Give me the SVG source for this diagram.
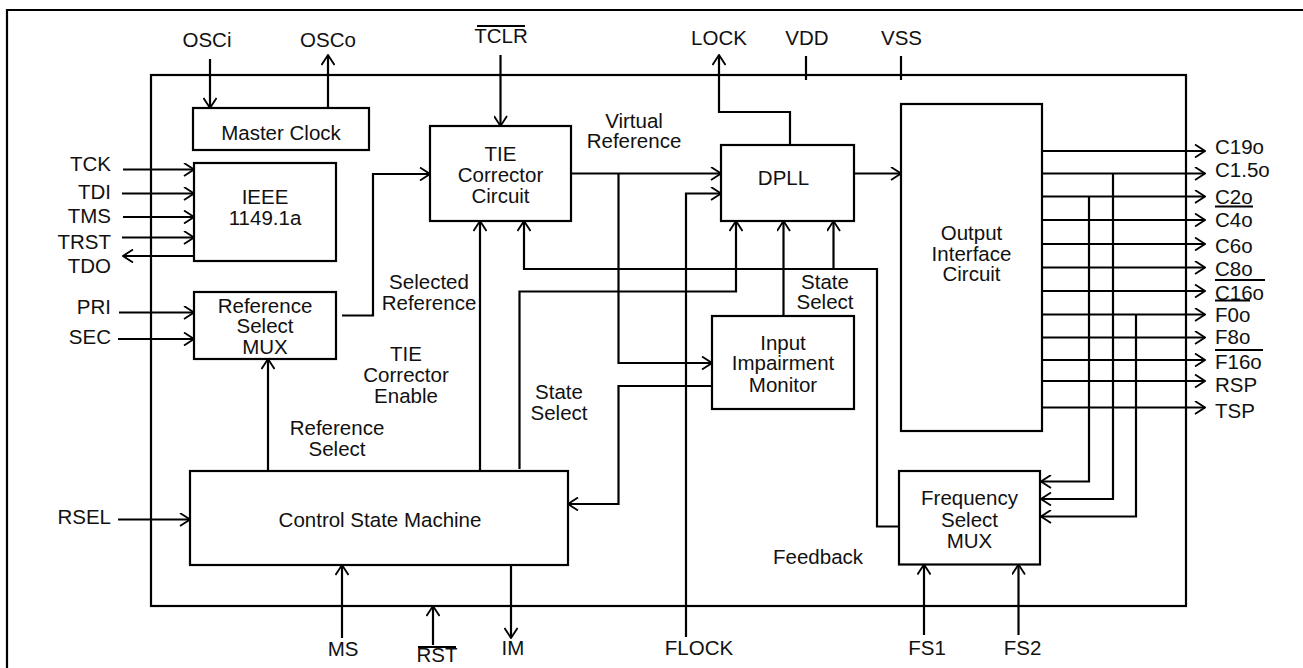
<svg xmlns="http://www.w3.org/2000/svg" width="1303" height="668" viewBox="0 0 1303 668">
<style>
  text { font-family: "Liberation Sans", Arial, sans-serif; font-size: 20.5px; fill: #111; }
  .c { text-anchor: middle; }
  .e { text-anchor: end; }
  .box { fill: #fff; stroke: #000; stroke-width: 2.2; }
  .w { fill: none; stroke: #000; stroke-width: 2.2; }
  .a { marker-end: url(#ah); }
  .bar { stroke: #000; stroke-width: 2; }
</style>
<defs>
  <marker id="ah" viewBox="0 0 12 14" refX="11" refY="7" markerWidth="12" markerHeight="14" markerUnits="userSpaceOnUse" orient="auto">
    <path d="M1,0.5 L11,7 L1,13.5" fill="none" stroke="#000" stroke-width="1.8"/>
  </marker>
</defs>
<rect width="1303" height="668" fill="#fff"/>
<path class="w" d="M7,668 V10 H1303"/>
<g id="chip"><rect x="151" y="75" width="1035" height="531" fill="none" stroke="#000" stroke-width="2.2"/></g>

<g id="connectors">
  <path class="w a" d="M210,59 V108"/>
  <path class="w a" d="M328,108 V55"/>
  <path class="w a" d="M500.5,55 V126"/>
  <path class="w a" d="M790,145 V112 H719 V55"/>
  <path class="w" d="M806,56 V80"/>
  <path class="w" d="M901,56 V80"/>
  <path class="w a" d="M123,169.5 H194"/>
  <path class="w a" d="M122,193.5 H194"/>
  <path class="w a" d="M123,217 H194"/>
  <path class="w a" d="M122,237.5 H194"/>
  <path class="w a" d="M194,256 H123"/>
  <path class="w a" d="M119,312.5 H194"/>
  <path class="w a" d="M118,339 H194"/>
  <path class="w a" d="M118,519.5 H190"/>
  <path class="w a" d="M342,315.5 H373 V174 H430"/>
  <path class="w a" d="M571,173.5 H721"/>
  <path class="w a" d="M618.5,173.5 V363 H712"/>
  <path class="w a" d="M686,637 V193.5 H721"/>
  <path class="w a" d="M854,173.5 H901"/>
  <path class="w a" d="M480,471 V221"/>
  <path class="w a" d="M900,526.5 H877 V269 H524 V221"/>
  <path class="w a" d="M833.5,269 V221"/>
  <path class="w a" d="M519.5,469 V291.5 H736 V221"/>
  <path class="w a" d="M783.5,316 V221"/>
  <path class="w a" d="M712,386 H618.5 V504 H568"/>
  <path class="w a" d="M268,471 V359"/>
  <path class="w a" d="M342,638 V565"/>
  <path class="w a" d="M433,645 V606"/>
  <path class="w a" d="M511,565 V638"/>
  <path class="w a" d="M924,635 V564.5"/>
  <path class="w a" d="M1018.5,635 V564.5"/>
  <path class="w a" d="M1042,151 H1205"/>
  <path class="w a" d="M1042,173.5 H1205"/>
  <path class="w a" d="M1042,196.5 H1205"/>
  <path class="w a" d="M1042,220 H1205"/>
  <path class="w a" d="M1042,244 H1205"/>
  <path class="w a" d="M1042,267.5 H1205"/>
  <path class="w a" d="M1042,291 H1205"/>
  <path class="w a" d="M1042,314.5 H1205"/>
  <path class="w a" d="M1042,337.5 H1205"/>
  <path class="w a" d="M1042,360 H1205"/>
  <path class="w a" d="M1039,381 H1205"/>
  <path class="w a" d="M1039,407.5 H1205"/>
  <path class="w a" d="M1113,173.5 V499 H1041"/>
  <path class="w a" d="M1089,196.5 V481.5 H1041"/>
  <path class="w a" d="M1136,314.5 V516.5 H1041"/>
</g>

<g id="master-clock">
  <rect class="box" x="193" y="108" width="176" height="42"/>
  <text class="c" x="281" y="140">Master Clock</text>
</g>
<g id="ieee">
  <rect class="box" x="194" y="163" width="142" height="98"/>
  <text class="c" x="265" y="204">IEEE</text>
  <text class="c" x="265" y="225">1149.1a</text>
</g>
<g id="ref-select-mux">
  <rect class="box" x="194" y="292" width="142" height="67"/>
  <text class="c" x="265" y="312.5">Reference</text>
  <text class="c" x="265" y="333">Select</text>
  <text class="c" x="265" y="353.5">MUX</text>
</g>
<g id="tie-corrector">
  <rect class="box" x="430" y="126" width="141" height="95"/>
  <text class="c" x="500.5" y="161">TIE</text>
  <text class="c" x="500.5" y="182">Corrector</text>
  <text class="c" x="500.5" y="203">Circuit</text>
</g>
<g id="dpll">
  <rect class="box" x="721" y="145" width="133" height="76"/>
  <text class="c" x="783.5" y="185">DPLL</text>
</g>
<g id="input-impairment-monitor">
  <rect class="box" x="712" y="316" width="142" height="93"/>
  <text class="c" x="783" y="349.5">Input</text>
  <text class="c" x="783" y="370">Impairment</text>
  <text class="c" x="783" y="391.5">Monitor</text>
</g>
<g id="output-interface">
  <rect class="box" x="901" y="104" width="141" height="327"/>
  <text class="c" x="971.5" y="240">Output</text>
  <text class="c" x="971.5" y="260.5">Interface</text>
  <text class="c" x="971.5" y="281">Circuit</text>
</g>
<g id="frequency-select-mux">
  <rect class="box" x="899" y="471" width="141" height="93.5"/>
  <text class="c" x="969.5" y="504.5">Frequency</text>
  <text class="c" x="969.5" y="527">Select</text>
  <text class="c" x="969.5" y="547.5">MUX</text>
</g>
<g id="control-state-machine">
  <rect class="box" x="190" y="471" width="378" height="94"/>
  <text class="c" x="380" y="527">Control State Machine</text>
</g>

<g id="labels">
  <text class="c" x="207" y="46.5">OSCi</text>
  <text class="c" x="328" y="46.5">OSCo</text>
  <text class="c" x="501" y="42.5">TCLR</text>
  <line class="bar" x1="477" y1="26" x2="525" y2="26"/>
  <text class="c" x="719" y="45">LOCK</text>
  <text class="c" x="807" y="45">VDD</text>
  <text class="c" x="901.5" y="45">VSS</text>
  <text class="e" x="111" y="171">TCK</text>
  <text class="e" x="111" y="199">TDI</text>
  <text class="e" x="111" y="222.5">TMS</text>
  <text class="e" x="111" y="248.5">TRST</text>
  <text class="e" x="111" y="272.5">TDO</text>
  <text class="e" x="111" y="314">PRI</text>
  <text class="e" x="111" y="344">SEC</text>
  <text class="e" x="111" y="524">RSEL</text>
  <text class="c" x="634" y="127.5">Virtual</text>
  <text class="c" x="634" y="148">Reference</text>
  <text class="c" x="429" y="288.5">Selected</text>
  <text class="c" x="429" y="309.5">Reference</text>
  <text class="c" x="406" y="360.5">TIE</text>
  <text class="c" x="406" y="382">Corrector</text>
  <text class="c" x="406" y="402.5">Enable</text>
  <text class="c" x="559" y="399">State</text>
  <text class="c" x="559" y="420">Select</text>
  <text class="c" x="825" y="288.5">State</text>
  <text class="c" x="825" y="309">Select</text>
  <text class="c" x="337" y="435">Reference</text>
  <text class="c" x="337" y="455.5">Select</text>
  <text x="773" y="563.5">Feedback</text>
  <text class="c" x="343" y="656">MS</text>
  <text class="c" x="437" y="662">RST</text>
  <line class="bar" x1="418" y1="647" x2="456" y2="647"/>
  <text class="c" x="513" y="655">IM</text>
  <text class="c" x="699" y="655">FLOCK</text>
  <text class="c" x="927" y="655">FS1</text>
  <text class="c" x="1022.5" y="655">FS2</text>
  <text x="1215" y="153.5">C19o</text>
  <text x="1215" y="176.5">C1.5o</text>
  <text x="1215" y="204">C2o</text>
  <text x="1215" y="227">C4o</text>
  <text x="1215" y="252.5">C6o</text>
  <text x="1215" y="276">C8o</text>
  <text x="1215" y="300">C16o</text>
  <text x="1215" y="321.5">F0o</text>
  <text x="1215" y="343.5">F8o</text>
  <text x="1215" y="369">F16o</text>
  <text x="1215" y="391.5">RSP</text>
  <text x="1215" y="418">TSP</text>
  <line class="bar" x1="1215" y1="206.5" x2="1253" y2="206.5"/>
  <line class="bar" x1="1215" y1="280" x2="1265" y2="280"/>
  <line class="bar" x1="1215" y1="300.5" x2="1250" y2="300.5"/>
  <line class="bar" x1="1215" y1="350" x2="1263" y2="350"/>
</g>
</svg>
